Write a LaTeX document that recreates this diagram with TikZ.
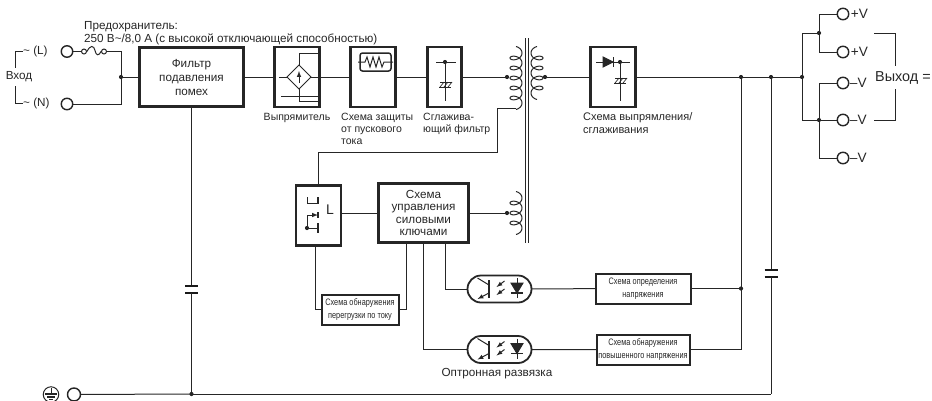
\documentclass[tikz,border=0pt]{standalone}
\usepackage{fontspec}
\setmainfont{Liberation Sans}
\newfontfamily\narrowfont[FakeStretch=0.78]{Liberation Sans}
\usetikzlibrary{arrows,shapes,positioning}

\begin{document}
\begin{tikzpicture}[
    x=1pt, y=-1pt,
    block/.style={rectangle, draw=black!85, line width=2.4pt, text=black!85, align=center, outer sep=0pt,
                  inner sep=0pt, font=\fontsize{11.7}{14}\selectfont},
    smallblock/.style={rectangle, draw=black!85, line width=2pt, text=black!85, align=center, outer sep=0pt,
                  inner sep=0pt, font=\narrowfont\fontsize{9.4}{13}\selectfont},
    line/.style={draw=black!85, line width=1pt},
    sym/.style={draw=black!85, line width=1pt},
    plate/.style={draw=black!90, line width=1.6pt},
    dot/.style={circle, fill=black!85, inner sep=0pt, minimum size=4.2pt, outer sep=0pt},
    term/.style={circle, draw=black!85, line width=1.4pt, inner sep=0pt, minimum size=11.5pt, outer sep=0pt},
    lab/.style={text=black!85, inner sep=0pt, align=left, font=\fontsize{10.5}{12}\selectfont},
    toplab/.style={text=black!85, inner sep=0pt, align=left, font=\fontsize{11.7}{13}\selectfont},
    biglab/.style={text=black!85, inner sep=1pt, font=\fontsize{13.6}{15}\selectfont}
]
\useasboundingbox (0,0) rectangle (932,400);

% Input side
\node [term] (termL) at (67,51.5) {};
\node [term] (termN) at (67,104) {};
\node [circle, sym, fill=white, inner sep=0pt, minimum size=5pt] (fuseA) at (84,51.5) {};
\node [circle, sym, fill=white, inner sep=0pt, minimum size=5pt] (fuseB) at (104,51.5) {};
\node [dot] (jin) at (121,77) {};
\node [toplab, anchor=west] (inL) at (23,51) {\textasciitilde{} (L)};
\node [toplab, anchor=west] (inN) at (23,103.5) {\textasciitilde{} (N)};
\node [toplab, minimum height=17pt] (inlabel) at (19,77) {Вход};
\node [toplab, anchor=north west] (fuselabel) at (84,21) {Предохранитель:\\250 В\textasciitilde/8,0 А (с высокой отключающей способностью)};
\coordinate (brL) at (15,51);
\coordinate (brN) at (15,103.5);

% Main row
\node [block, minimum width=104pt, minimum height=59pt] (filter) at (191.5,77) {Фильтр\\подавления\\помех};
\node [block, minimum width=45pt, minimum height=60pt, right=31pt of filter] (rectif) {};
\node [block, minimum width=45pt, minimum height=60pt, right=31pt of rectif] (protect) {};
\node [block, minimum width=34pt, minimum height=60pt, right=32pt of protect] (smooth) {};
\node [block, minimum width=45pt, minimum height=60pt] (outrect) at (613,77) {};
\node [dot] (jprim) at (507,77) {};
\node [dot] (jsec) at (545,77) {};

\node [lab] (rectiflabel) at (297,118) {Выпрямитель};
\node [lab, anchor=north west] (protectlabel) at (341,112.5) {Схема защиты\\от пускового\\тока};
\node [lab, anchor=north west] (smoothlabel) at (423,112.5) {Сглажива-\\ющий фильтр};
\node [lab, anchor=north west, font=\fontsize{11}{13}\selectfont] (outlabel) at (583,112) {Схема выпрямления/\\сглаживания};

% Lower blocks
\node [block, minimum width=45pt, minimum height=60pt] (switch) at (318.5,215.5) {};
\node [block, minimum width=90pt, minimum height=59pt, font=\fontsize{11.7}{12.2}\selectfont] (ctrl) at (423.5,213) {Схема\\управления\\силовыми\\ключами};
\node [smallblock, minimum width=77pt, minimum height=30pt] (ovc) at (360,309.5) {Схема обнаружения\\перегрузки по току};
\node [smallblock, minimum width=95pt, minimum height=30pt] (volt) at (643,288.5) {Схема определения\\напряжения};
\node [smallblock, minimum width=93pt, minimum height=30pt] (ovolt) at (643,349.5) {Схема обнаружения\\повышенного напряжения};
\node [dot] (jlow) at (507,213) {};
\node [dot] (jvolt) at (741,288.5) {};
\node [toplab] (optolabel) at (497,374) {Оптронная развязка};

% Optocouplers
\foreach \oy/\oname in {289/optoa,349.5/optob} {
    \node [rounded rectangle, draw=black!85, line width=1.8pt, minimum width=64pt, minimum height=27pt, inner sep=0pt, outer sep=0pt] (\oname) at (499.5,\oy) {};
    \begin{scope}[shift={(499.5,\oy)}]
        \draw [sym, line width=1.4pt] (-10.5,-9) -- (-10.5,9);
        \draw [sym] (-22,-11) -- (-10.5,-4);
        \draw [sym, -latex] (-10.5,4) -- (-22,10);
        \draw [sym, -latex] (5,-8) -- (-3,-2);
        \draw [sym, -latex] (5,0) -- (-3,6);
        \draw [sym] (17.5,-11) -- (17.5,9);
        \draw [sym, fill=black!85] (11.5,-6) -- (23.5,-6) -- (17.5,4) -- cycle;
        \draw [sym, line width=1.3pt] (11.5,4) -- (23.5,4);
    \end{scope}
}

% Ground and output nodes
\node [term, minimum size=13pt] (termE) at (74,394.5) {};
\node [circle, sym, inner sep=0pt, minimum size=15.5pt] (earth) at (51,394.5) {};
\node [dot] (jgnd) at (191.5,394) {};
\node [dot] (joa) at (741,77) {};
\node [dot] (job) at (771,77) {};
\node [dot] (joc) at (802,77) {};
\node [dot] (jplus) at (819,33) {};
\node [dot] (jminus) at (819,120) {};
\node [term] (tpa) at (843,14) {};
\node [term] (tpb) at (843,52) {};
\node [term] (tma) at (843,83) {};
\node [term] (tmb) at (843,120) {};
\node [term] (tmc) at (843,158) {};
\node [biglab, right=1pt of tpa] (ltpa) {+V};
\node [biglab, right=1pt of tpb] (ltpb) {+V};
\node [biglab, right=0pt of tma] (ltma) {–V};
\node [biglab, right=0pt of tmb] (ltmb) {–V};
\node [biglab, right=0pt of tmc] (ltmc) {–V};
\node [biglab, anchor=west, inner sep=0pt, minimum height=22pt, font=\fontsize{14.4}{15}\selectfont] (outV) at (875,77.5) {Выход =};

\coordinate (brA) at (874,33);
\coordinate (brB) at (895,33);
\coordinate (brC) at (895,120);
\coordinate (brD) at (874,120);

% Transformer
\draw [sym] (525,38) -- (525,243);
\draw [sym] (528.5,38) -- (528.5,243);
\draw [sym] plot[domain=-90:1890, samples=220, smooth] ({516+6*cos(\x)},{53+\x/36+4*sin(\x)});
\draw [sym] plot[domain=-90:1530, samples=180, smooth] ({537-6*cos(\x)},{53+\x/36+4*sin(\x)});
\draw [sym] plot[domain=-90:1170, samples=150, smooth] ({516+6*cos(\x)},{198+\x/36+4*sin(\x)});
\coordinate (coilend) at (516,108);
\coordinate (fbA) at (497,108);
\coordinate (fbB) at (497,152);
\coordinate (fbC) at (318.5,152);

% Connect input
\draw [line] (termL) -- (fuseA);
\draw [line] (fuseA.east) .. controls (90,45) and (94,45) .. (95,50.5) .. controls (96,56) and (99,56) .. (fuseB.west);
\draw [line] (fuseB) -| (jin.center);
\draw [line] (termN) -| (jin.center);
\draw [line] (jin.center) -- (filter);
\draw [line] (inL.west) -- (brL) -- (brL |- inlabel.north);
\draw [line] (inN.west) -- (brN) -- (brN |- inlabel.south);

% Connect main row
\draw [line] (filter) -- (rectif);
\draw [line] (rectif) -- (protect);
\draw [line] (protect) -- (smooth);
\draw [line] (smooth) -- (jprim.center);
\draw [line] (jsec.center) -- (outrect);
\draw [line] (outrect) -- (joa.center);
\draw [line] (joa.center) -- (job.center);
\draw [line] (job.center) -- (joc.center);

% Connect control part
\draw [line] (coilend) -- (fbA) -- (fbB) -- (fbC) -- (switch);
\draw [line] (ctrl) -- (ctrl -| switch.east);
\draw [line] (ctrl) -- (jlow.center);
\draw [line] ([xshift=-3.5pt]switch.south) |- (ovc);
\draw [line] (ovc) -| ([xshift=-17.5pt]ctrl.south);
\draw [line] ([xshift=21.5pt]ctrl.south) |- (optoa);
\draw [line] (ctrl.south) |- (optob);
\draw [line] (optoa) -- (volt);
\draw [line] (optob) -- (ovolt);
\draw [line] (volt) -- (jvolt.center);
\draw [line] (ovolt) -| (jvolt.center);
\draw [line] (joa.center) -- (jvolt.center);

% Connect capacitors and ground
\coordinate (capAa) at (191.5,286);
\coordinate (capAb) at (191.5,293);
\coordinate (capBa) at (771,270);
\coordinate (capBb) at (771,277);
\coordinate (gndturn) at (771,394);
\draw [line] (filter) -- (capAa);
\draw [plate] ([xshift=-6.5pt]capAa) -- ([xshift=6.5pt]capAa);
\draw [plate] ([xshift=-6.5pt]capAb) -- ([xshift=6.5pt]capAb);
\draw [line] (capAb) -- (jgnd.center);
\draw [line] (job.center) -- (capBa);
\draw [plate] ([xshift=-6.5pt]capBa) -- ([xshift=6.5pt]capBa);
\draw [plate] ([xshift=-6.5pt]capBb) -- ([xshift=6.5pt]capBb);
\draw [line] (capBb) -- (gndturn);
\draw [line] (termE) -- (jgnd.center);
\draw [line] (jgnd.center) -- (gndturn);

% Connect outputs
\draw [line] (joc.center) |- (jplus.center);
\draw [line] (joc.center) |- (jminus.center);
\draw [line] (jplus.center) |- (tpa);
\draw [line] (jplus.center) |- (tpb);
\draw [line] (jminus.center) |- (tma);
\draw [line] (jminus.center) -- (tmb);
\draw [line] (jminus.center) |- (tmc);
\draw [line] (brA) -- (brB) -- (brB |- outV.north);
\draw [line] (brD) -- (brC) -- (brC |- outV.south);

% Earth mark
\draw [sym] (51,388) -- (51,394);
\draw [sym, line width=1.1pt] (45,394) -- (57,394);
\draw [sym, line width=1.1pt] (47,397) -- (55,397);
\draw [sym, line width=1.1pt] (49,399.5) -- (53,399.5);

% Rectifier symbol
\draw [sym] (299,65) -- (311,77) -- (299,89) -- (287,77) -- cycle;
\draw [sym, -latex] (299,83) -- (299,71);
\draw [sym] (299,65) -- (299,53) -- (318,53);
\draw [sym] (279,77) -- (287,77);
\draw [sym] (311,77) -- (318,77) -- (318,96) -- (281,96);
\draw [sym] (299,89) -- (299,101) -- (318,101);

% Inrush resistor symbol
\draw [sym, rounded corners=2.5pt, line width=1.5pt] (360,53) rectangle (391,71);
\draw [sym] (358,62) -- (365,62) -- (367,57) -- (370,67) -- (373,57) -- (376,67) -- (379,57) -- (382,67) -- (384,62) -- (393,62);

% Smoothing symbol
\draw [sym] (436,62) -- (456,62);
\draw [sym] (445,62) -- (445,101);
\node [dot] (jsmooth) at (445,62) {};
\draw [sym] (440,82) -- (452,82);
\draw [sym] (439,87) -- (451,87);
\foreach \hx in {441,445,449} {
    \draw [sym, line width=0.7pt] (\hx-1,87) -- (\hx+3,82);
}

% Output rectifier symbol
\draw [sym] (596,62) -- (630,62);
\draw [sym, fill=black!85] (603,57) -- (613,62) -- (603,67) -- cycle;
\draw [sym, line width=1.3pt] (613.5,57) -- (613.5,67);
\draw [sym] (620,62) -- (620,101);
\node [dot] (joutrect) at (620,62) {};
\draw [sym] (615,78) -- (627,78);
\draw [sym] (614,83) -- (626,83);
\foreach \hx in {616,620,624} {
    \draw [sym, line width=0.7pt] (\hx-1,83) -- (\hx+3,78);
}

% Switch symbol
\draw [sym, line width=1.4pt] (318,197) -- (318,204);
\draw [sym] (307,197) -- (307,203) -- (318,203);
\draw [sym, line width=1.4pt] (318,212) -- (318,218);
\draw [sym, -latex] (307,228) -- (307,215) -- (318,215);
\draw [sym, line width=1.4pt] (318,223) -- (318,233);
\draw [sym] (307,228) -- (318,228);
\node [dot] (jswitch) at (307,228) {};
\node [text=black!85, inner sep=0pt, font=\fontsize{14}{14}\selectfont] (swL) at (330,210) {L};

\end{tikzpicture}
\end{document}
